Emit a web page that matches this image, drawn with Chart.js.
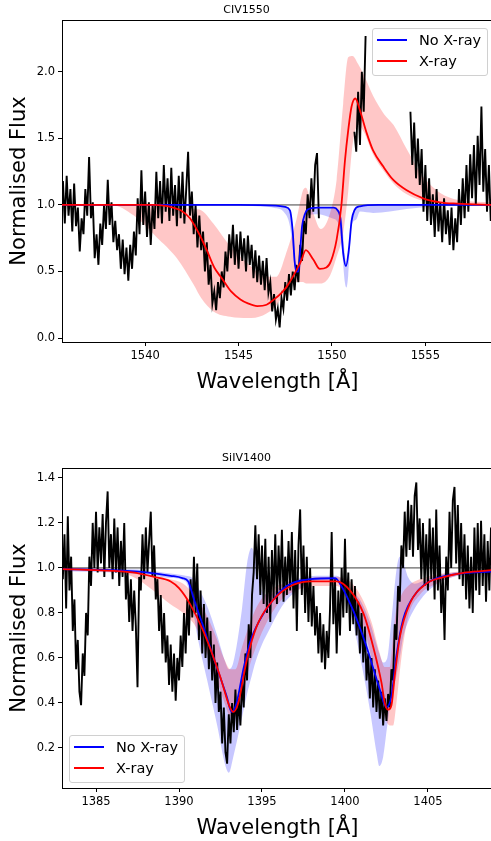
<!DOCTYPE html>
<html>
<head>
<meta charset="utf-8">
<script src="https://cdn.jsdelivr.net/npm/chart.js@4.4.1/dist/chart.umd.min.js"></script>
<style>
  body { margin: 0; width: 491px; height: 841px; overflow: hidden; background: #fff; position: relative; }
  canvas { position: absolute; left: 0; }
  #civChart { top: 0; }
  #siChart { top: 448px; }
  .legend { position: absolute; box-sizing: border-box; width: 116px; height: 48px;
            border: 1px solid #d0d0d0; border-radius: 3px; background: rgba(255,255,255,0.85);
            font-family: "DejaVu Sans", sans-serif; font-size: 14.5px; color: #000; }
  .legend .row { position: absolute; left: 4px; height: 20px; display: flex; align-items: center; white-space: nowrap; }
  .legend .row i { display: block; width: 30px; height: 2px; margin-right: 12px; }
</style>
</head>
<body>
<canvas id="civChart" width="493" height="396"></canvas>
<canvas id="siChart" width="493" height="394"></canvas>

<div class="legend" style="left:372px; top:28px;">
  <div class="row" style="top:1px;"><i style="background:#0000ff"></i>No X-ray</div>
  <div class="row" style="top:22px;"><i style="background:#ff0000"></i>X-ray</div>
</div>
<div class="legend" style="left:69px; top:735px;">
  <div class="row" style="top:1px;"><i style="background:#0000ff"></i>No X-ray</div>
  <div class="row" style="top:22px;"><i style="background:#ff0000"></i>X-ray</div>
</div>

<script>
// ---- CIV 1550 ----
// observed spectrum, one value every 0.1 A starting at 1535.6 (null = masked)
const civStart = 1535.6;
const civFlux = [
  1.18, 0.86, 1.22, 0.92,
  1.12, 0.8, 1.16, 0.84, 0.98, 0.65, 0.9, 0.78, 1.12, 0.92,
  1.36, 0.9, 1.02, 0.6, 0.78, 0.55, 0.86, 0.7, 1.0, 0.82,
  1.19, 0.85, 1.02, 0.72, 0.88, 0.66, 0.78, 0.52, 0.74, 0.48,
  0.68, 0.43, 0.7, 0.52, 0.8, 0.62, 1.05, 0.78, 1.26, 0.85,
  1.1, 0.76, 1.02, 0.7, 1.0, 0.82, 1.25, 0.9, 1.18, 0.86,
  1.3, 0.95, 1.2, 0.88, 1.28, 0.92, 1.15, 0.84, 1.22, 0.9,
  1.25, 0.86, 1.12, 1.4, 0.92, 1.1, 0.78, 1.0, 0.68, 0.92,
  0.66, 0.8, 0.5, 0.72, 0.4, 0.55, 0.26, 0.35, 0.21, 0.42,
  0.3, 0.5, 0.38, 0.65, 0.5, 0.78, 0.6, 0.85, 0.55, 0.78,
  0.52, 0.8, 0.58, 0.75, 0.5, 0.77, 0.55, 0.7, 0.45, 0.66,
  0.42, 0.62, 0.4, 0.58, 0.36, 0.6, 0.34, 0.42, 0.2, 0.33,
  0.14, 0.22, 0.08, 0.3, 0.22, 0.42, 0.28, 0.48, 0.32, 0.5,
  0.36, 0.55, 0.42, 0.7, 0.58, 0.88, 0.78, 1.08, 0.9, 1.2,
  0.95, 1.3, 1.39, 0.9, null, null, null, null, null, null,
  null, null, null, null, null, null, null, null, null, null,
  null, null, 1.55, 1.4, 1.85, 1.45, 2.0, 1.7, 2.27, null,
  null, null, null, null, null, null, null, null, null, null,
  null, null, null, null, null, null, null, null, null, null,
  null, null, 1.7, 1.3, 1.62, 1.2, 1.5, 1.15, 1.42, 0.95,
  1.3, 0.88, 1.2, 0.85, 1.08, 0.76, 1.12, 0.8, 1.02, 0.72,
  1.05, 0.78, 0.96, 0.7, 0.98, 0.66, 0.9, 0.72, 1.12, 0.85,
  1.2, 0.9, 1.3, 0.95, 1.38, 1.05, 1.45, 1.0, 1.52, 1.15,
  1.74, 1.1, 1.42, 0.95, 1.3, 0.88, 1.1
];

// model without X-rays
const civBlueWave = [1535.5, 1545.0, 1547.0, 1547.5, 1547.75, 1547.9, 1548.0, 1548.1, 1548.2, 1548.3, 1548.4, 1548.55, 1548.7, 1549.2, 1550.1, 1550.3, 1550.45, 1550.6, 1550.75, 1550.9, 1551.05, 1551.2, 1551.5, 1552.5, 1558.7];
const civBlueFlux = [1.0, 1.0, 0.995, 0.985, 0.96, 0.8, 0.58, 0.5, 0.5, 0.66, 0.84, 0.93, 0.965, 0.98, 0.98, 0.96, 0.9, 0.64, 0.54, 0.66, 0.88, 0.96, 0.99, 1.0, 1.0];

// model with X-rays
const civRedWave = [1535.5, 1540.5, 1541.0, 1541.5, 1541.9, 1542.4, 1542.9, 1543.3, 1543.7, 1544.1, 1544.6, 1545.1, 1545.5, 1546.0, 1546.5, 1546.9, 1547.3, 1547.6, 1548.1, 1548.35, 1548.6, 1549.0, 1549.35, 1549.7, 1549.95, 1550.25, 1550.5, 1550.7, 1550.87, 1551.05, 1551.25, 1551.5, 1551.86, 1552.2, 1552.74, 1553.27, 1554.0, 1554.88, 1555.78, 1556.7, 1558.7];
const civRedFlux = [1.0, 1.0, 0.995, 0.98, 0.96, 0.9, 0.78, 0.66, 0.53, 0.45, 0.35, 0.29, 0.26, 0.24, 0.25, 0.29, 0.34, 0.39, 0.51, 0.58, 0.66, 0.59, 0.52, 0.53, 0.58, 0.74, 0.99, 1.34, 1.56, 1.74, 1.8, 1.71, 1.54, 1.41, 1.29, 1.19, 1.11, 1.05, 1.02, 1.01, 1.0];

// model ranges
const civRedBandWave = [1535.5, 1538.2, 1539.4, 1540.6, 1541.7, 1542.6, 1543.0, 1543.65, 1544.55, 1545.5, 1546.3, 1547.0, 1547.6, 1548.1, 1548.45, 1548.6, 1549.0, 1549.4, 1549.9, 1550.25, 1550.6, 1550.87, 1551.1, 1551.4, 1551.7, 1552.2, 1552.8, 1553.3, 1554.0, 1554.9, 1555.8, 1556.7, 1558.7];
const civRedBandLow = [1.0, 1.0, 0.92, 0.76, 0.6, 0.4, 0.3, 0.2, 0.16, 0.15, 0.17, 0.24, 0.37, 0.42, 0.42, 0.41, 0.41, 0.41, 0.47, 0.61, 0.79, 1.1, 1.45, 1.6, 1.55, 1.38, 1.25, 1.16, 1.08, 1.03, 1.01, 1.0, 1.0];
const civRedBandHigh = [1.0, 1.0, 1.0, 1.0, 0.98, 0.97, 0.96, 0.86, 0.69, 0.56, 0.47, 0.46, 0.66, 0.89, 1.11, 1.13, 0.94, 0.82, 0.94, 1.19, 1.76, 2.11, 2.12, 2.06, 1.98, 1.82, 1.68, 1.6, 1.42, 1.21, 1.09, 1.04, 1.02];

const civBlueBandWave = [1535.5, 1544.0, 1546.0, 1547.0, 1547.4, 1547.75, 1547.93, 1548.05, 1548.2, 1548.35, 1548.5, 1548.7, 1549.2, 1550.0, 1550.34, 1550.52, 1550.7, 1550.78, 1550.87, 1551.05, 1551.3, 1551.5, 1552.2, 1554.0, 1555.5, 1558.7];
const civBlueBandLow = [1.0, 1.0, 0.99, 0.975, 0.95, 0.84, 0.64, 0.5, 0.49, 0.55, 0.82, 0.92, 0.93, 0.9, 0.86, 0.69, 0.41, 0.38, 0.47, 0.84, 0.89, 0.95, 0.94, 0.97, 0.99, 1.0];
const civBlueBandHigh = [1.0, 1.0, 1.0, 0.998, 0.99, 0.965, 0.8, 0.55, 0.5, 0.7, 0.9, 0.97, 0.985, 0.985, 0.96, 0.9, 0.62, 0.56, 0.6, 0.9, 0.97, 0.99, 0.995, 1.0, 1.0, 1.0];

// ---- SiIV 1400 ----
const siStart = 1383.0;
const siFlux = [
  0.95, 1.15, 0.82, 1.23, 0.9, 1.05, 0.72, 0.86, 0.55, 0.68,
  0.45, 0.39, 0.62, 0.52, 0.8, 0.7, 1.05, 0.92, 1.2, 1.0,
  1.25, 0.98, 1.18, 1.02, 1.24, 0.96, 1.2, 1.34, 1.0, 1.15,
  0.95, 1.22, 0.98, 1.18, 0.92, 1.12, 0.96, 1.2, 0.86, 0.98,
  0.76, 0.95, 0.72, 0.9, 0.74, 0.47, 0.96, 0.9, 1.15, 0.95,
  1.18, 0.98, 1.12, 1.25, 0.96, 1.1, 0.86, 0.95, 0.72, 0.88,
  0.62, 0.8, 0.58, 0.7, 0.48, 0.66, 0.45, 0.62, 0.41, 0.6,
  0.5, 0.7, 0.56, 0.8, 0.62, 0.86, 0.7, 0.95, 0.78, 1.05,
  0.8, 1.02, 0.68, 0.9, 0.62, 0.84, 0.6, 0.78, 0.55, 0.72,
  0.5, 0.66, 0.4, 0.58, 0.36, 0.45, 0.22, 0.38, 0.18, 0.13,
  0.35, 0.22, 0.4, 0.27, 0.46, 0.28, 0.42, 0.3, 0.5, 0.38,
  0.62, 0.5, 0.75, 0.6, 0.88, 0.98, 1.19, 0.95, 1.15, 0.88,
  1.1, 0.84, 1.13, 0.8, 1.05, 0.76, 1.08, 0.86, 1.15, 0.84,
  1.1, 0.9, 1.17, 0.85, 1.05, 0.88, 1.12, 0.9, 1.16, 0.82,
  1.08, 0.72, 1.1, 1.26, 0.88, 1.1, 0.8, 1.05, 0.76, 1.0,
  0.74, 0.92, 0.7, 0.83, 0.62, 0.8, 0.58, 0.75, 0.55, 0.72,
  0.6, 0.82, 1.16, 0.75, 0.95, 0.62, 0.9, 0.7, 1.0, 0.78,
  1.13, 0.8, 0.98, 0.72, 0.95, 0.75, 0.92, 0.7, 0.85, 0.62,
  0.8, 0.58, 0.74, 0.5, 0.62, 0.42, 0.6, 0.38, 0.55, 0.36,
  0.5, 0.33, 0.45, 0.3, 0.42, 0.32, 0.44, 0.38, 0.55, 0.5,
  0.75, 0.68, 0.92, 0.85, 1.1, 1.0, 1.25, 1.05, 1.3, 1.08,
  1.28, 1.05, 1.32, 1.38, 1.08, 1.22, 0.95, 1.2, 0.92, 1.15,
  0.9, 1.22, 0.95, 1.18, 0.86, 1.26, 0.9, 1.1, 0.8, 0.96,
  0.68, 1.05, 0.9, 1.25, 1.0, 1.3, 1.36, 1.02, 1.28, 0.95,
  1.2, 0.92, 1.15, 0.86, 1.1, 0.82, 1.05, 0.8, 1.18, 0.9,
  1.2, 0.88, 1.21, 0.92, 1.15, 0.85, 1.12, 0.9, 1.18, 0.94
];

const siBlueWave = [1383, 1386, 1388, 1389.5, 1390.2, 1390.56, 1390.86, 1391.46, 1392.27, 1392.87, 1393.17, 1393.47, 1393.88, 1394.28, 1394.88, 1395.48, 1396.49, 1397.9, 1399.4, 1399.7, 1400.5, 1401.3, 1402.1, 1402.5, 1402.8, 1403.1, 1403.5, 1404.3, 1405.1, 1406.5, 1408.9];
const siBlueFlux = [0.995, 0.99, 0.98, 0.965, 0.955, 0.94, 0.87, 0.74, 0.56, 0.43, 0.36, 0.4, 0.55, 0.67, 0.77, 0.84, 0.92, 0.95, 0.954, 0.93, 0.81, 0.65, 0.46, 0.38, 0.43, 0.61, 0.77, 0.89, 0.94, 0.97, 0.985];

const siRedWave = [1383, 1385, 1387.2, 1388.5, 1389.5, 1390.0, 1390.66, 1391.46, 1392.47, 1393.07, 1393.27, 1393.57, 1394.08, 1394.68, 1395.48, 1396.49, 1397.9, 1399.5, 1400.3, 1401.1, 1401.7, 1402.2, 1402.4, 1402.6, 1402.8, 1403.0, 1403.3, 1403.9, 1404.9, 1406.0, 1407.3, 1408.9];
const siRedFlux = [0.995, 0.99, 0.98, 0.96, 0.94, 0.91, 0.84, 0.72, 0.52, 0.38, 0.36, 0.4, 0.59, 0.74, 0.84, 0.91, 0.94, 0.94, 0.9, 0.8, 0.65, 0.49, 0.4, 0.37, 0.39, 0.52, 0.69, 0.84, 0.93, 0.96, 0.98, 0.99];

const siRedBandWave = [1383, 1386, 1387.25, 1388.45, 1389.46, 1390.26, 1391.0, 1391.6, 1392.2, 1392.7, 1393.1, 1393.4, 1393.8, 1394.2, 1394.7, 1395.3, 1396.2, 1397.5, 1398.5, 1399.4, 1400.3, 1401.0, 1401.6, 1402.1, 1402.4, 1402.7, 1402.9, 1403.1, 1403.4, 1403.8, 1404.5, 1405.5, 1407.0, 1408.9];
const siRedBandLow = [0.99, 0.985, 0.96, 0.9, 0.84, 0.8, 0.74, 0.64, 0.52, 0.41, 0.34, 0.34, 0.42, 0.55, 0.66, 0.76, 0.86, 0.91, 0.92, 0.92, 0.88, 0.77, 0.6, 0.44, 0.34, 0.3, 0.3, 0.4, 0.6, 0.78, 0.88, 0.93, 0.97, 0.985];
const siRedBandHigh = [1.0, 0.995, 0.985, 0.965, 0.95, 0.93, 0.87, 0.8, 0.7, 0.6, 0.55, 0.55, 0.65, 0.74, 0.83, 0.89, 0.93, 0.95, 0.96, 0.96, 0.94, 0.87, 0.76, 0.62, 0.56, 0.56, 0.7, 0.82, 0.88, 0.92, 0.95, 0.97, 0.985, 0.995];

const siBlueBandWave = [1383, 1386, 1388, 1389.5, 1390.4, 1390.8, 1391.1, 1391.7, 1392.3, 1392.8, 1393.0, 1393.27, 1393.78, 1394.1, 1394.38, 1394.6, 1395.0, 1395.4, 1396.3, 1397.3, 1398.3, 1399.5, 1400.3, 1400.9, 1401.5, 1401.9, 1402.07, 1402.3, 1402.55, 1402.8, 1403.1, 1403.3, 1403.5, 1403.8, 1404.2, 1404.9, 1406.1, 1408.9];
const siBlueBandLow = [0.985, 0.98, 0.97, 0.955, 0.94, 0.83, 0.7, 0.5, 0.3, 0.12, 0.09, 0.16, 0.33, 0.44, 0.52, 0.58, 0.66, 0.72, 0.84, 0.91, 0.945, 0.95, 0.81, 0.61, 0.37, 0.18, 0.12, 0.16, 0.3, 0.42, 0.52, 0.6, 0.69, 0.76, 0.82, 0.89, 0.95, 0.98];
const siBlueBandHigh = [1.0, 0.995, 0.99, 0.975, 0.965, 0.955, 0.92, 0.83, 0.7, 0.58, 0.55, 0.58, 0.81, 1.02, 1.09, 1.04, 0.9, 0.88, 0.93, 0.955, 0.965, 0.965, 0.9, 0.86, 0.76, 0.66, 0.62, 0.58, 0.6, 0.77, 0.99, 1.05, 1.03, 0.96, 0.93, 0.95, 0.975, 0.99];

const step = 0.1;
const fontFamily = '"DejaVu Sans", sans-serif';

function spectrum(start, flux) {
  return flux.map((y, i) => ({ x: +(start + i * step).toFixed(2), y: y }));
}
function pairs(wave, flux) {
  return wave.map((x, i) => ({ x: x, y: flux[i] }));
}

// top and right spines like matplotlib
const framePlugin = {
  id: 'frame',
  afterDatasetsDraw(chart) {
    const { ctx, chartArea } = chart;
    ctx.save();
    ctx.strokeStyle = '#000';
    ctx.lineWidth = 1;
    ctx.beginPath();
    ctx.moveTo(chartArea.left, chartArea.top + 0.5);
    ctx.lineTo(chartArea.right, chartArea.top + 0.5);
    ctx.moveTo(chartArea.right - 0.5, chartArea.top);
    ctx.lineTo(chartArea.right - 0.5, chartArea.bottom);
    ctx.stroke();
    ctx.restore();
  }
};

function makePanel(id, p) {
  const smooth = { pointRadius: 0, cubicInterpolationMode: 'monotone' };
  const ctx = document.getElementById(id).getContext('2d');
  return new Chart(ctx, {
    type: 'line',
    data: {
      datasets: [
        Object.assign({ label: 'X-ray', data: p.red, borderColor: '#ff0000', borderWidth: 1.8, fill: false, order: 0 }, smooth),
        Object.assign({ label: 'No X-ray', data: p.blue, borderColor: '#0000ff', borderWidth: 1.8, fill: false, order: 1 }, smooth),
        { label: 'continuum', data: [{ x: p.xMin, y: 1 }, { x: p.xMax, y: 1 }], borderColor: 'rgba(0,0,0,0.75)', borderWidth: 1, pointRadius: 0, fill: false, order: 2 },
        { label: 'observed', data: p.obs, borderColor: '#000', borderWidth: 1.9, pointRadius: 0, spanGaps: false, fill: false, order: 3 },
        Object.assign({ label: 'red high', data: p.redHigh, borderColor: 'transparent', borderWidth: 0, fill: 5, backgroundColor: 'rgba(255,0,0,0.22)', order: 4 }, smooth),
        Object.assign({ label: 'red low', data: p.redLow, borderColor: 'transparent', borderWidth: 0, fill: false, order: 5 }, smooth),
        Object.assign({ label: 'blue high', data: p.blueHigh, borderColor: 'transparent', borderWidth: 0, fill: 7, backgroundColor: 'rgba(0,0,255,0.22)', order: 6 }, smooth),
        Object.assign({ label: 'blue low', data: p.blueLow, borderColor: 'transparent', borderWidth: 0, fill: false, order: 7 }, smooth)
      ]
    },
    options: {
      responsive: false,
      animation: false,
      events: [],
      layout: { padding: 0 },
      plugins: {
        legend: { display: false },
        tooltip: { enabled: false },
        title: {
          display: true, text: p.title, color: '#000',
          font: { family: fontFamily, size: 11, weight: 'normal' },
          padding: { top: 3.4, bottom: 3.4 }
        }
      },
      scales: {
        x: {
          type: 'linear', min: p.xMin, max: p.xMax,
          afterFit: (s) => { s.height = 54; },
          ticks: { stepSize: 5, includeBounds: false, autoSkip: false, maxRotation: 0, color: '#000', padding: 3,
                   font: { family: fontFamily, size: 11.5 }, callback: (v) => v },
          grid: { drawOnChartArea: false, drawTicks: true, tickLength: 4, color: '#000' },
          border: { display: true, color: '#000', width: 1 },
          title: { display: true, text: 'Wavelength [Å]', color: '#000',
                   font: { family: fontFamily, size: 21 }, padding: { top: 6, bottom: 1 } }
        },
        y: {
          type: 'linear', min: p.yMin, max: p.yMax,
          afterFit: (s) => { s.width = 62; },
          ticks: { stepSize: p.yStep, includeBounds: false, color: '#000', padding: 3,
                   font: { family: fontFamily, size: 11.5 }, callback: (v) => v.toFixed(1) },
          grid: { drawOnChartArea: false, drawTicks: true, tickLength: 4, color: '#000' },
          border: { display: true, color: '#000', width: 1 },
          title: { display: true, text: 'Normalised Flux', color: '#000',
                   font: { family: fontFamily, size: 21 }, padding: { top: 7, bottom: 0 } }
        }
      }
    },
    plugins: [framePlugin]
  });
}

makePanel('civChart', {
  title: 'CIV1550', xMin: 1535.55, xMax: 1558.62, yMin: -0.03, yMax: 2.39, yStep: 0.5,
  obs: spectrum(civStart, civFlux),
  red: pairs(civRedWave, civRedFlux),
  blue: pairs(civBlueWave, civBlueFlux),
  redLow: pairs(civRedBandWave, civRedBandLow),
  redHigh: pairs(civRedBandWave, civRedBandHigh),
  blueLow: pairs(civBlueBandWave, civBlueBandLow),
  blueHigh: pairs(civBlueBandWave, civBlueBandHigh)
});

makePanel('siChart', {
  title: 'SiIV1400', xMin: 1382.95, xMax: 1408.92, yMin: 0.022, yMax: 1.444, yStep: 0.2,
  obs: spectrum(siStart, siFlux),
  red: pairs(siRedWave, siRedFlux),
  blue: pairs(siBlueWave, siBlueFlux),
  redLow: pairs(siRedBandWave, siRedBandLow),
  redHigh: pairs(siRedBandWave, siRedBandHigh),
  blueLow: pairs(siBlueBandWave, siBlueBandLow),
  blueHigh: pairs(siBlueBandWave, siBlueBandHigh)
});
</script>
</body>
</html>
